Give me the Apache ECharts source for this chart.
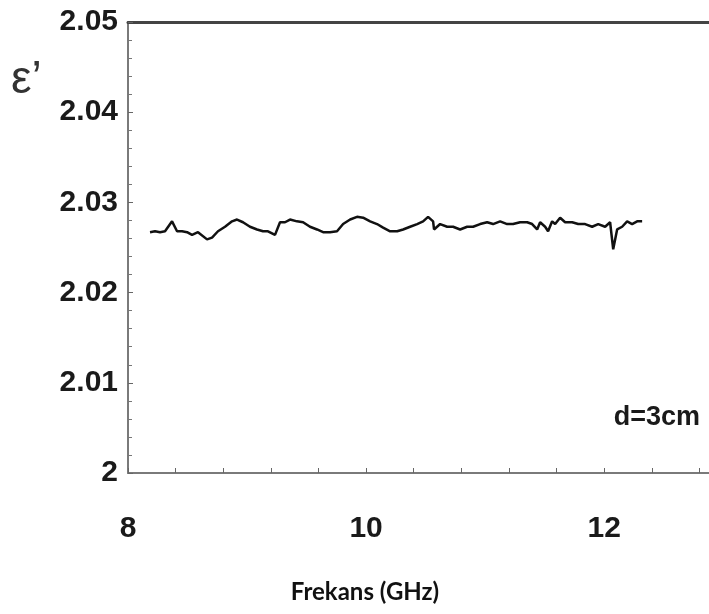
<!DOCTYPE html>
<html>
<head>
<meta charset="utf-8">
<script src="https://cdn.jsdelivr.net/npm/echarts@6/dist/echarts.min.js"></script>
<style>html,body{margin:0;padding:0;background:#fff;}#c{width:709px;height:614px;}</style>
</head>
<body>
<div id="c"></div>
<script>
const freq = [8.185,8.227,8.269,8.311,8.370,8.412,8.454,8.496,8.538,8.588,8.664,8.706,8.756,8.815,8.874,8.916,8.966,9.025,9.084,9.134,9.176,9.235,9.277,9.319,9.361,9.420,9.471,9.529,9.588,9.639,9.697,9.756,9.807,9.866,9.924,9.975,10.034,10.092,10.143,10.202,10.261,10.311,10.370,10.429,10.479,10.521,10.563,10.571,10.622,10.681,10.731,10.790,10.849,10.899,10.958,11.017,11.067,11.126,11.185,11.235,11.294,11.353,11.395,11.437,11.462,11.504,11.529,11.563,11.588,11.630,11.672,11.731,11.782,11.840,11.899,11.950,12.008,12.050,12.076,12.109,12.151,12.193,12.235,12.277,12.319];
const eps = [2.0267,2.0268,2.0267,2.0268,2.0279,2.0268,2.0268,2.0267,2.0264,2.0267,2.0259,2.0261,2.0268,2.0273,2.0279,2.0281,2.0278,2.0273,2.0270,2.0268,2.0268,2.0264,2.0278,2.0278,2.0281,2.0279,2.0278,2.0273,2.0270,2.0267,2.0267,2.0268,2.0276,2.0281,2.0284,2.0283,2.0279,2.0276,2.0272,2.0268,2.0268,2.0270,2.0273,2.0276,2.0279,2.0284,2.0279,2.0270,2.0276,2.0273,2.0273,2.0270,2.0273,2.0273,2.0276,2.0278,2.0276,2.0279,2.0276,2.0276,2.0278,2.0278,2.0276,2.0270,2.0278,2.0273,2.0268,2.0279,2.0276,2.0283,2.0278,2.0278,2.0276,2.0276,2.0273,2.0276,2.0273,2.0278,2.0248,2.0270,2.0273,2.0279,2.0276,2.0279,2.0279];
const xTickLabels = [8, 10, 12];
const yTickLabels = ['2', '2.01', '2.02', '2.03', '2.04', '2.05'];

const chart = echarts.init(document.getElementById('c'), null, {renderer: 'canvas'});
const tickFont = {fontFamily: '"Liberation Sans", Arial, sans-serif', fontWeight: 'bold', fontSize: 30, color: '#1a1a1a'};
chart.setOption({
  animation: false,
  backgroundColor: '#fff',
  grid: {left: 128, top: 22, bottom: 141, right: -38, containLabel: false, outerBoundsMode: 'none'},
  xAxis: [{
    type: 'value', min: 8, max: 13.2, interval: 0.4, position: 'bottom',
    axisLine: {show: true, lineStyle: {color: '#7a7a7a', width: 2}},
    axisTick: {show: true, inside: true, length: 5, lineStyle: {color: '#666', width: 1}},
    splitLine: {show: false},
    axisLabel: Object.assign({margin: 41, showMaxLabel: false, formatter: function (v) {
      const r = Math.round(v);
      return (Math.abs(v - r) < 1e-6 && xTickLabels.indexOf(r) >= 0) ? String(r) : '';
    }}, tickFont)
  }, {
    type: 'value', min: 8, max: 13.2, position: 'top',
    axisLine: {show: true, lineStyle: {color: '#444', width: 3}},
    axisTick: {show: false}, axisLabel: {show: false}, splitLine: {show: false}
  }],
  yAxis: {
    type: 'value', min: 2, max: 2.05, interval: 0.01,
    axisLine: {show: true, lineStyle: {color: '#7a7a7a', width: 2}},
    axisTick: {show: true, inside: true, length: 5, lineStyle: {color: '#666', width: 1}},
    minorTick: {show: true, splitNumber: 5, length: 4, lineStyle: {color: '#777', width: 1}},
    splitLine: {show: false},
    axisLabel: Object.assign({margin: 10, formatter: function (v) {
      const i = Math.round((v - 2) / 0.01);
      return yTickLabels[i] !== undefined ? yTickLabels[i] : '';
    }}, tickFont)
  },
  series: [{
    type: 'line', showSymbol: false, symbol: 'none',
    data: freq.map((f, i) => [f, eps[i]]),
    lineStyle: {color: '#111', width: 2.5}
  }],
  graphic: [
    {type: 'text', x: 11, y: 103, style: {text: 'ε’', fontFamily: '"Liberation Sans", Arial, sans-serif', fontSize: 46, fill: '#333', align: 'left', verticalAlign: 'bottom'}},
    {type: 'text', x: 700, y: 418, style: {text: 'd=3cm', fontFamily: '"Liberation Sans", Arial, sans-serif', fontWeight: 'bold', fontSize: 27, fill: '#1a1a1a', align: 'right', verticalAlign: 'middle'}},
    {type: 'text', x: 365, y: 592, style: {text: 'Frekans (GHz)', fontFamily: 'Lato, "Open Sans", sans-serif', fontWeight: 'bold', fontSize: 24, fill: '#111', align: 'center', verticalAlign: 'middle'}}
  ]
});
</script>
</body>
</html>
